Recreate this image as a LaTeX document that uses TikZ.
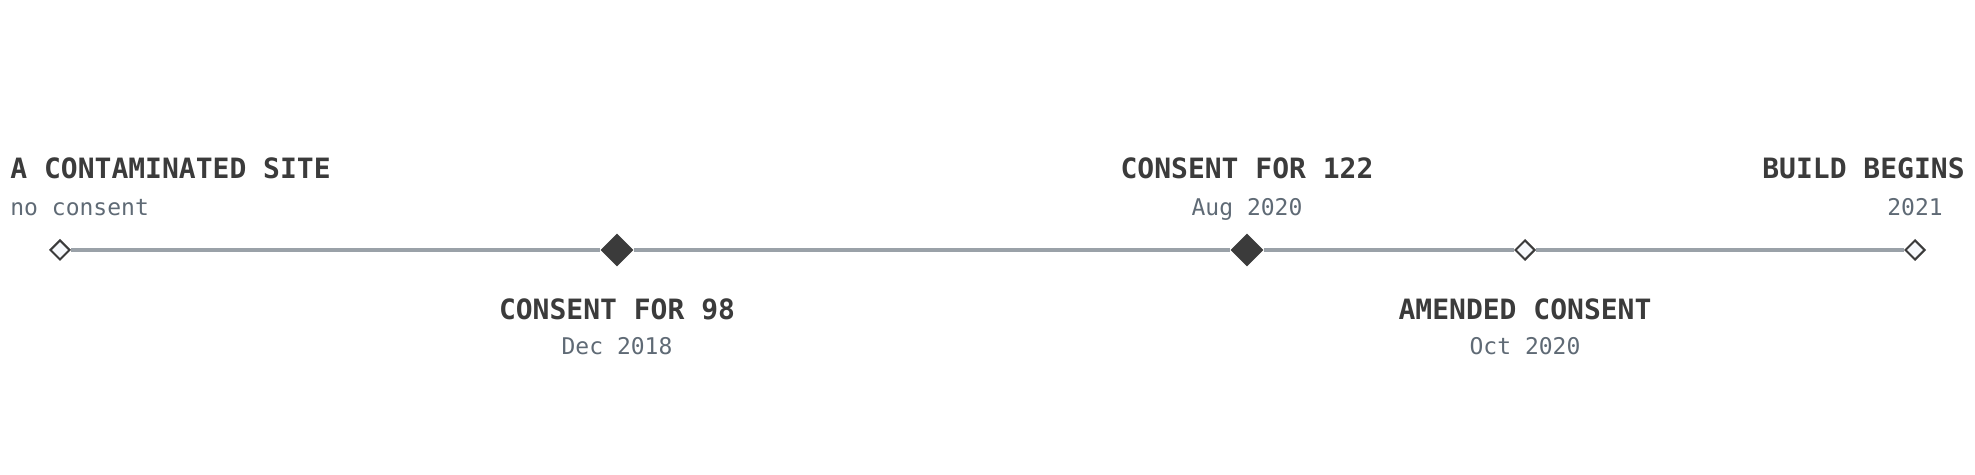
\documentclass[tikz,border=0pt]{standalone}
\usepackage{fontspec}
\setmonofont{DejaVu Sans Mono}
\usetikzlibrary{positioning, shapes.geometric}

\definecolor{ink}{HTML}{3B3B3B}
\definecolor{slate}{HTML}{5F6A75}
\definecolor{rail}{HTML}{9AA1A8}
\definecolor{paper}{HTML}{F7F9FC}

\begin{document}
\begin{tikzpicture}[x=0.5pt, y=-0.5pt,
		milestone/.style={diamond, draw=ink, fill=paper, line width=1pt, minimum size=10pt, inner sep=0pt},
		keystone/.style={diamond, fill=ink, minimum size=16.5pt, inner sep=0pt},
		title/.style={font=\ttfamily\bfseries\fontsize{14}{16}\selectfont, text=ink, inner sep=0pt},
		when/.style={font=\ttfamily\fontsize{11.5}{14}\selectfont, text=slate, inner sep=0pt},
		rail/.style={draw=rail, line width=1.7pt}]

		\useasboundingbox (0,0) rectangle (1975,475);

		% Milestones
		\begin{scope}
			\node (site) at (60, 250) [milestone] {};
			\node (c98) at (617, 250) [keystone] {};
			\node (c122) at (1247, 250) [keystone] {};
			\node (amend) at (1525, 250) [milestone] {};
			\node (build) at (1915, 250) [milestone] {};
		\end{scope}

		\draw [rail] (site) -- (c98) -- (c122) -- (amend) -- (build);

		% Above the line
		\begin{scope}
			\node (site_title) at (10, 179) [title, anchor=base west] {A CONTAMINATED SITE};
			\node (site_when) at (10, 216) [when, anchor=base west] {no consent};

			\node (c122_title) at (1247, 179) [title, anchor=base] {CONSENT FOR 122};
			\node (c122_when) at (1247, 216) [when, anchor=base] {Aug 2020};

			\node (build_title) at (1965, 179) [title, anchor=base east] {BUILD BEGINS};
			\node (build_when) at (1915, 216) [when, anchor=base] {2021};
		\end{scope}

		% Below the line
		\begin{scope}
			\node (c98_title) at (617, 320) [title, anchor=base] {CONSENT FOR 98};
			\node (c98_when) at (617, 355) [when, anchor=base] {Dec 2018};

			\node (amend_title) at (1525, 320) [title, anchor=base] {AMENDED CONSENT};
			\node (amend_when) at (1525, 355) [when, anchor=base] {Oct 2020};
		\end{scope}

	\end{tikzpicture}
\end{document}
